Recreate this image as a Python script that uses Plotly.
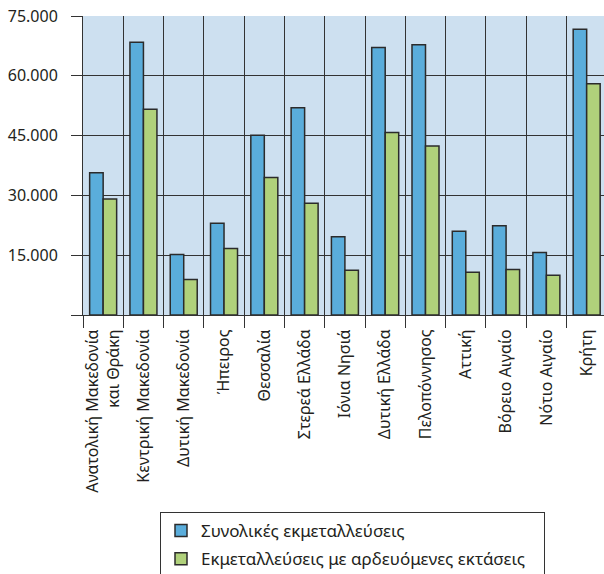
import plotly.graph_objects as go

regions = ["Ανατολική Μακεδονία<br>και Θράκη", "Κεντρική Μακεδονία", "Δυτική Μακεδονία",
           "Ήπειρος", "Θεσσαλία", "Στερεά Ελλάδα", "Ιόνια Νησιά", "Δυτική Ελλάδα",
           "Πελοπόννησος", "Αττική", "Βόρειο Αιγαίο", "Νότιο Αιγαίο", "Κρήτη"]
total = [35700, 68400, 15200, 23000, 45100, 52000, 19600, 67100, 67800, 21000, 22400, 15700, 71700]
irrigated = [29100, 51600, 8900, 16700, 34500, 28000, 11200, 45800, 42400, 10700, 11400, 10000, 58000]
ytick_vals = [0, 15000, 30000, 45000, 60000, 75000]
ytick_text = ["", "15.000", "30.000", "45.000", "60.000", "75.000"]
name_total = "Συνολικές εκμεταλλεύσεις"
name_irr = "Εκμεταλλεύσεις με αρδευόμενες εκτάσεις"

FONT = "Noto Sans"
TXT = "#231f20"

fig = go.Figure()
fig.add_trace(go.Bar(x=regions, y=total, name=name_total, legendgroup="a",
                     marker=dict(color="#5aaddb", line=dict(color="#2b2b2b", width=1.5))))
fig.add_trace(go.Bar(x=regions, y=irrigated, name=name_irr + "\u00a0\u00a0\u00a0", legendgroup="b",
                     marker=dict(color="#b0d17b", line=dict(color="#2b2b2b", width=1.5))))

fig.update_layout(
    width=604, height=574,
    margin=dict(l=83, r=0, t=16, b=259, autoexpand=False),
    paper_bgcolor="white",
    plot_bgcolor="#cde0f0",
    barmode="group", bargap=0.33, bargroupgap=0,
    font=dict(family=FONT, size=16, color=TXT),
    showlegend=True,
    legend=dict(x=(160 - 83) / 521, xanchor="left", y=-(512 - 315) / 299, yanchor="top",
                bgcolor="white", bordercolor="#333", borderwidth=1,
                font=dict(family=FONT, size=17, color=TXT),
                traceorder="grouped", tracegroupgap=3),
    xaxis=dict(range=[-0.5, 12.43], tickson="boundaries", showgrid=True, gridcolor="#333", gridwidth=1,
               ticks="outside", ticklen=12, tickcolor="#333", tickwidth=1, automargin=False,
               tickangle=-90, showline=True, linecolor="#333", linewidth=1, ticklabelstandoff=7,
               tickfont=dict(family=FONT, size=16, color=TXT)),
    yaxis=dict(range=[0, 75000], tickvals=ytick_vals, ticktext=ytick_text, automargin=False,
               showgrid=True, gridcolor="#333", gridwidth=1, zeroline=False,
               ticks="outside", ticklen=11, tickcolor="#333", tickwidth=1,
               showline=True, linecolor="#333", linewidth=1, ticklabelstandoff=10,
               ticklabeloverflow="allow",
               tickfont=dict(family=FONT, size=16, color=TXT)),
)

fig.write_html("out.html", config={"displayModeBar": False},
               post_script="document.body.style.margin='0px';")
